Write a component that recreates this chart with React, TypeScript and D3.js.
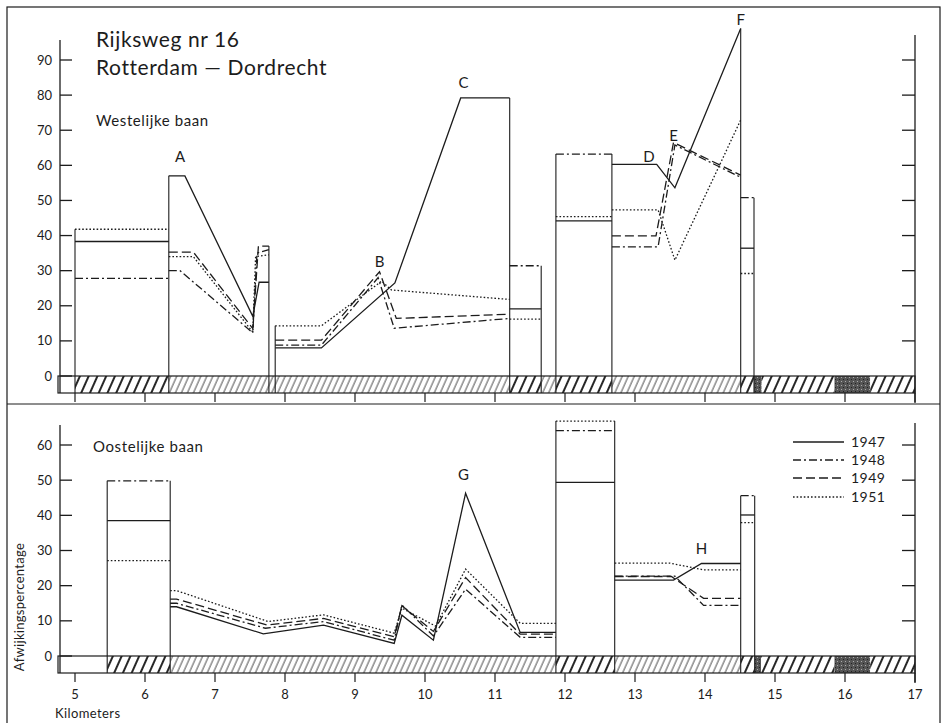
import React from "react";
import * as d3 from "d3";

// km positions and percentages
const xTicks = [5, 6, 7, 8, 9, 10, 11, 12, 13, 14, 15, 16, 17];
const westTicks = [0, 10, 20, 30, 40, 50, 60, 70, 80, 90];
const eastTicks = [0, 10, 20, 30, 40, 50, 60];
const years = ["1947", "1948", "1949", "1951"];

const west1947 = [
  [[5.0, 38.3], [6.34, 38.3]],
  [[6.34, 57], [6.57, 57], [7.54, 17], [7.63, 26.7], [7.77, 26.7]],
  [[7.86, 8], [8.52, 8], [9.57, 26.5], [10.51, 79.2], [11.21, 79.2]],
  [[11.21, 19.1], [11.66, 19.1]],
  [[11.87, 44.2], [12.67, 44.2]],
  [[12.67, 60.3], [13.31, 60.3], [13.57, 53.6], [14.51, 99]],
  [[14.51, 36.4], [14.7, 36.4]],
];
const west1948 = [
  [[5.0, 27.8], [6.34, 27.8]],
  [[6.34, 30], [6.5, 30], [7.54, 12.3], [7.6, 35], [7.77, 36]],
  [[7.86, 8.8], [8.52, 8.8], [9.33, 28], [9.56, 13.6], [11.21, 16.4]],
  [[11.21, 31.4], [11.66, 31.4]],
  [[11.87, 63.2], [12.67, 63.2]],
  [[12.67, 36.8], [13.33, 36.8], [13.57, 65.8], [14.51, 56.6]],
  [[14.51, 50.8], [14.7, 50.8]],
];
const west1949 = [
  [[6.34, 35.3], [6.69, 35.3], [7.54, 13.5], [7.62, 37], [7.77, 37]],
  [[7.86, 10.2], [8.52, 10.2], [9.35, 29.7], [9.59, 16.4], [11.21, 17.6]],
  [[12.67, 39.9], [13.3, 39.9], [13.55, 66.5], [14.51, 57.2]],
];
const west1951 = [
  [[5.0, 41.8], [6.34, 41.8]],
  [[6.34, 34], [6.69, 34], [7.54, 12.5], [7.58, 34], [7.77, 34.5]],
  [[7.86, 14.3], [8.52, 14.3], [9.38, 27], [9.52, 24.5], [11.21, 21.8]],
  [[11.21, 16.2], [11.66, 16.2]],
  [[11.87, 45.4], [12.67, 45.4]],
  [[12.67, 47.3], [13.33, 47.3], [13.57, 33], [14.51, 72.9]],
  [[14.51, 29.2], [14.7, 29.2]],
];

const east1947 = [
  [[5.46, 38.5], [6.36, 38.5]],
  [[6.36, 14], [6.45, 14], [7.69, 6.3], [8.55, 8.8], [9.56, 3.6], [9.67, 11.6], [10.12, 4.5], [10.58, 46.3], [11.36, 6.7], [11.87, 6.7]],
  [[11.87, 49.4], [12.71, 49.4]],
  [[12.71, 21.6], [13.55, 21.6], [13.95, 26.3], [14.51, 26.3]],
  [[14.51, 40.1], [14.71, 40.1]],
];
const east1948 = [
  [[5.46, 49.8], [6.36, 49.8]],
  [[6.36, 15], [6.45, 15], [7.72, 7.9], [8.55, 9.8], [9.56, 4.5], [9.67, 14.5], [10.12, 5.7], [10.58, 19], [11.36, 5.3], [11.87, 5.3]],
  [[11.87, 64.1], [12.71, 64.1]],
  [[12.71, 22.7], [13.57, 22.7], [13.98, 14.4], [14.51, 14.4]],
  [[14.51, 45.6], [14.71, 45.6]],
];
const east1949 = [
  [[6.36, 16.2], [6.45, 16.2], [7.74, 8.8], [8.55, 10.7], [9.56, 5.5], [9.67, 14.3], [10.12, 7], [10.58, 22.3], [11.36, 6.2], [11.87, 6.2]],
  [[12.71, 22.6], [13.52, 22.6], [13.98, 16.4], [14.51, 16.4]],
];
const east1951 = [
  [[5.46, 27.1], [6.36, 27.1]],
  [[6.36, 18.6], [6.45, 18.6], [7.76, 9.8], [8.55, 11.7], [9.56, 6.5], [9.67, 13.6], [10.15, 8.5], [10.58, 24.7], [11.36, 9.3], [11.87, 9.3]],
  [[11.87, 66.8], [12.71, 66.8]],
  [[12.71, 26.4], [13.5, 26.4], [13.98, 24.5], [14.51, 24.5]],
  [[14.51, 37.9], [14.71, 37.9]],
];

// section edges: [km, top value]
const westEdges = [[5.0, 41.8], [6.34, 57], [7.77, 37], [7.86, 14.3], [11.21, 79.2], [11.66, 31.4], [11.87, 63.2], [12.67, 63.2], [14.51, 99], [14.7, 50.8]];
const eastEdges = [[5.46, 49.8], [6.36, 49.8], [11.87, 66.8], [12.71, 66.8], [14.51, 45.6], [14.71, 45.6]];

// road band under the zero line: [from km, to km, fill]
const westBand = [[5.0, 6.34, "heavy"], [6.34, 11.21, "thin"], [11.21, 11.66, "heavy"], [11.66, 11.87, "thin"], [11.87, 12.67, "heavy"], [12.67, 14.51, "thin"], [14.51, 14.7, "heavy"], [14.7, 14.81, "stip"], [14.81, 15.85, "heavy"], [15.85, 16.36, "stip"], [16.36, 17, "heavy"]];
const eastBand = [[5.46, 6.36, "heavy"], [6.36, 11.87, "thin"], [11.87, 12.71, "heavy"], [12.71, 14.51, "thin"], [14.51, 14.71, "heavy"], [14.71, 14.8, "stip"], [14.8, 15.85, "heavy"], [15.85, 16.36, "stip"], [16.36, 17, "heavy"]];

const westLetters = [["A", 6.5, 61], ["B", 9.35, 31], ["C", 10.55, 82], ["D", 13.2, 61], ["E", 13.55, 67], ["F", 14.51, 100]];
const eastLetters = [["G", 10.55, 50], ["H", 13.95, 29]];

const dash = { "1947": null, "1948": "8 3 2 3", "1949": "9 4", "1951": "1.6 2" };
const ink = "#1c1c1c";
const font = "Lato, 'Open Sans', sans-serif";

const x = d3.scaleLinear().domain([5, 17]).range([75, 915]);

function Panel({ y, ticks, bandBottom, series, edges, band, letters, axisTop, rightTop }) {
  const line = d3.line().x(d => x(d[0])).y(d => y(d[1]));
  const y0 = y(0);
  const fills = { heavy: "url(#heavy)", thin: "url(#thin)", stip: "url(#stip)" };
  return (
    <g>
      {band.map((b, i) => (
        <rect key={i} x={x(b[0])} y={y0} width={x(b[1]) - x(b[0])} height={bandBottom - y0} fill={fills[b[2]]} />
      ))}
      <rect x={58} y={y0} width={915 - 58} height={bandBottom - y0} fill="none" stroke={ink} strokeWidth={1.2} />
      {edges.map((e, i) => (
        <line key={i} x1={x(e[0])} x2={x(e[0])} y1={y(e[1])} y2={bandBottom} stroke={ink} strokeWidth={1.1} />
      ))}
      {years.map((yr, k) => series[k].map((seg, i) => (
        <path key={yr + i} d={line(seg)} fill="none" stroke={ink} strokeWidth={1.3}
          strokeDasharray={dash[yr] || undefined} />
      )))}
      <line x1={60} x2={60} y1={axisTop} y2={bandBottom} stroke={ink} strokeWidth={1.3} />
      {ticks.map(t => (
        <g key={t}>
          <line x1={60} x2={72} y1={y(t)} y2={y(t)} stroke={ink} strokeWidth={1.3} />
          <text x={52} y={y(t) + 4.5} textAnchor="end" fontSize={13} fontFamily={font} fill={ink}>{t}</text>
        </g>
      ))}
      <line x1={915} x2={915} y1={rightTop} y2={bandBottom + 10} stroke={ink} strokeWidth={1.3} />
      {ticks.filter(t => t > 0).map(t => (
        <line key={t} x1={902} x2={915} y1={y(t)} y2={y(t)} stroke={ink} strokeWidth={1.3} />
      ))}
      {xTicks.map(t => (
        <line key={t} x1={x(t)} x2={x(t)} y1={bandBottom} y2={bandBottom + 9} stroke={ink} strokeWidth={1.2} />
      ))}
      {letters.map(l => (
        <text key={l[0]} x={x(l[1])} y={y(l[2])} textAnchor="middle" fontSize={15} fontFamily={font} fill={ink}>{l[0]}</text>
      ))}
    </g>
  );
}

export default function App() {
  const yTop = d3.scaleLinear().domain([0, 90]).range([376, 60]);
  const yBot = d3.scaleLinear().domain([0, 60]).range([656, 445]);
  const legendY = [442, 460, 478, 497];
  return (
    <svg width={944} height={723} style={{ position: "absolute", left: 0, top: 0, background: "#fff" }}>
      <defs>
        <pattern id="thin" width={5.5} height={10} patternUnits="userSpaceOnUse" patternTransform="rotate(24)">
          <rect width={5.5} height={10} fill="#fff" />
          <line x1={1} x2={1} y1={0} y2={10} stroke={ink} strokeWidth={0.8} />
        </pattern>
        <pattern id="heavy" width={8} height={10} patternUnits="userSpaceOnUse" patternTransform="rotate(24)">
          <rect width={8} height={10} fill="#fff" />
          <line x1={2} x2={2} y1={0} y2={10} stroke={ink} strokeWidth={1.9} />
        </pattern>
        <pattern id="stip" width={4} height={4} patternUnits="userSpaceOnUse">
          <rect width={4} height={4} fill="#555" />
          <rect x={1} y={1} width={1} height={1} fill="#aaa" />
          <rect x={3} y={3} width={1} height={1} fill="#222" />
        </pattern>
      </defs>
      <rect x={7} y={7} width={933} height={740} fill="none" stroke={ink} strokeWidth={1.2} />
      <line x1={7} x2={940} y1={404} y2={404} stroke={ink} strokeWidth={1} />

      <text x={96} y={47} fontSize={21} letterSpacing={0.6} fontFamily={font} fill={ink}>Rijksweg nr 16</text>
      <text x={96} y={75} fontSize={21} letterSpacing={0.6} fontFamily={font} fill={ink}>Rotterdam — Dordrecht</text>
      <text x={96} y={126} fontSize={15} letterSpacing={0.6} fontFamily={font} fill={ink}>Westelijke baan</text>
      <text x={93} y={452} fontSize={15} letterSpacing={0.6} fontFamily={font} fill={ink}>Oostelijke baan</text>

      <Panel y={yTop} ticks={westTicks} bandBottom={393} series={[west1947, west1948, west1949, west1951]}
        edges={westEdges} band={westBand} letters={westLetters} axisTop={40} rightTop={35} />
      <Panel y={yBot} ticks={eastTicks} bandBottom={673} series={[east1947, east1948, east1949, east1951]}
        edges={eastEdges} band={eastBand} letters={eastLetters} axisTop={425} rightTop={423} />

      {xTicks.map(t => (
        <text key={t} x={x(t)} y={699} textAnchor="middle" fontSize={13} fontFamily={font} fill={ink}>{t}</text>
      ))}
      <text x={55} y={718} fontSize={13} letterSpacing={0.4} fontFamily={font} fill={ink}>Kilometers</text>
      <text transform="translate(24,607) rotate(-90)" textAnchor="middle" fontSize={13} letterSpacing={0.3} fontFamily={font} fill={ink}>Afwijkingspercentage</text>

      {years.map((yr, i) => (
        <g key={yr}>
          <line x1={793} x2={844} y1={legendY[i]} y2={legendY[i]} stroke={ink} strokeWidth={1.3}
            strokeDasharray={dash[yr] || undefined} />
          <text x={851} y={legendY[i] + 5} fontSize={14} letterSpacing={0.5} fontFamily={font} fill={ink}>{yr}</text>
        </g>
      ))}
    </svg>
  );
}
